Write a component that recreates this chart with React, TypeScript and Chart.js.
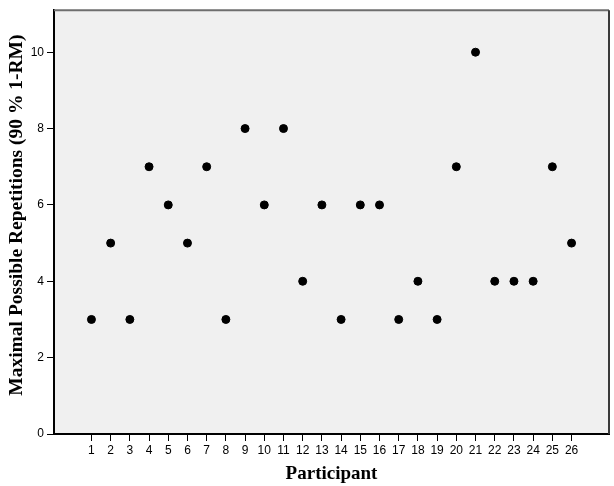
import React, { useEffect, useRef } from "react";
import { Chart, registerables } from "chart.js";

Chart.register(...registerables);

const participants = [1, 2, 3, 4, 5, 6, 7, 8, 9, 10, 11, 12, 13, 14, 15, 16, 17, 18, 19, 20, 21, 22, 23, 24, 25, 26];
const repetitions = [3, 5, 3, 7, 6, 5, 7, 3, 8, 6, 8, 4, 6, 3, 6, 6, 3, 4, 3, 7, 10, 4, 4, 4, 7, 5];
const yTicks = [0, 2, 4, 6, 8, 10];
const xTitle = "Participant";
const yTitle = "Maximal Possible Repetitions (90 % 1-RM)";

const tickFont = { family: "'Liberation Sans Narrow', 'Liberation Sans', sans-serif", size: 12 };

const framePlugin = {
  id: "frame",
  beforeDraw(chart: any) {
    const { ctx, chartArea: a } = chart;
    ctx.save();
    ctx.fillStyle = "#f0f0f0";
    ctx.fillRect(a.left, a.top, a.right - a.left, a.bottom - a.top);
    ctx.restore();
  },
  afterDraw(chart: any) {
    const { ctx, chartArea: a } = chart;
    ctx.save();
    ctx.lineWidth = 2;
    ctx.strokeStyle = "#6e6e6e";
    ctx.beginPath();
    ctx.moveTo(a.left, a.top);
    ctx.lineTo(a.right, a.top);
    ctx.stroke();
    ctx.strokeStyle = "#3a3a3a";
    ctx.beginPath();
    ctx.moveTo(a.right, a.top);
    ctx.lineTo(a.right, a.bottom);
    ctx.stroke();
    // y-axis title
    ctx.translate(17, (a.top + a.bottom) / 2 - 7);
    ctx.rotate(-Math.PI / 2);
    ctx.fillStyle = "#000";
    ctx.font = "bold 19.5px 'Liberation Serif'";
    ctx.textAlign = "center";
    ctx.textBaseline = "middle";
    ctx.fillText(yTitle, 0, 0);
    ctx.restore();
  },
};

export default function App() {
  const ref = useRef<HTMLCanvasElement>(null);
  useEffect(() => {
    if (!ref.current) return;
    const chart = new Chart(ref.current, {
      type: "scatter",
      data: {
        datasets: [
          {
            data: participants.map((p, i) => ({ x: p, y: repetitions[i] })),
            backgroundColor: "#000",
            borderColor: "#000",
            pointRadius: 4,
            pointHoverRadius: 4,
          },
        ],
      },
      options: {
        responsive: false,
        animation: false,
        layout: { padding: { top: 4, right: 4, left: 0, bottom: 0 } },
        plugins: { legend: { display: false }, tooltip: { enabled: false } },
        scales: {
          x: {
            type: "linear",
            min: -0.95,
            max: 27.95,
            afterBuildTicks: (s: any) => {
              s.ticks = participants.map((v) => ({ value: v }));
            },
            afterFit: (s: any) => {
              s.height = 52;
            },
            grid: { drawOnChartArea: false, drawTicks: true, tickLength: 7, color: "#000", lineWidth: 1 },
            border: { display: true, color: "#000", width: 2 },
            ticks: {
              autoSkip: false,
              maxRotation: 0,
              padding: 2,
              color: "#000",
              font: tickFont,
              callback: (v: any) => String(v),
            },
            title: {
              display: true,
              text: xTitle,
              color: "#000",
              font: { family: "Liberation Serif", size: 19, weight: "bold" },
              padding: { top: 0, bottom: 1 },
            },
          },
          y: {
            min: 0,
            max: 11.1,
            afterBuildTicks: (s: any) => {
              s.ticks = yTicks.map((v) => ({ value: v }));
            },
            afterFit: (s: any) => {
              s.width = 54;
            },
            grid: { drawOnChartArea: false, drawTicks: true, tickLength: 7, color: "#000", lineWidth: 1 },
            border: { display: true, color: "#000", width: 2 },
            ticks: {
              padding: 3,
              color: "#000",
              font: tickFont,
              callback: (v: any) => String(v),
            },
            title: { display: false },
          },
        },
      },
      plugins: [framePlugin],
    });
    return () => chart.destroy();
  }, []);
  return (
    <div style={{ position: "fixed", left: 0, top: 0, width: 614, height: 486, background: "#fff" }}>
      <canvas ref={ref} width={614} height={486} style={{ display: "block" }} />
    </div>
  );
}
